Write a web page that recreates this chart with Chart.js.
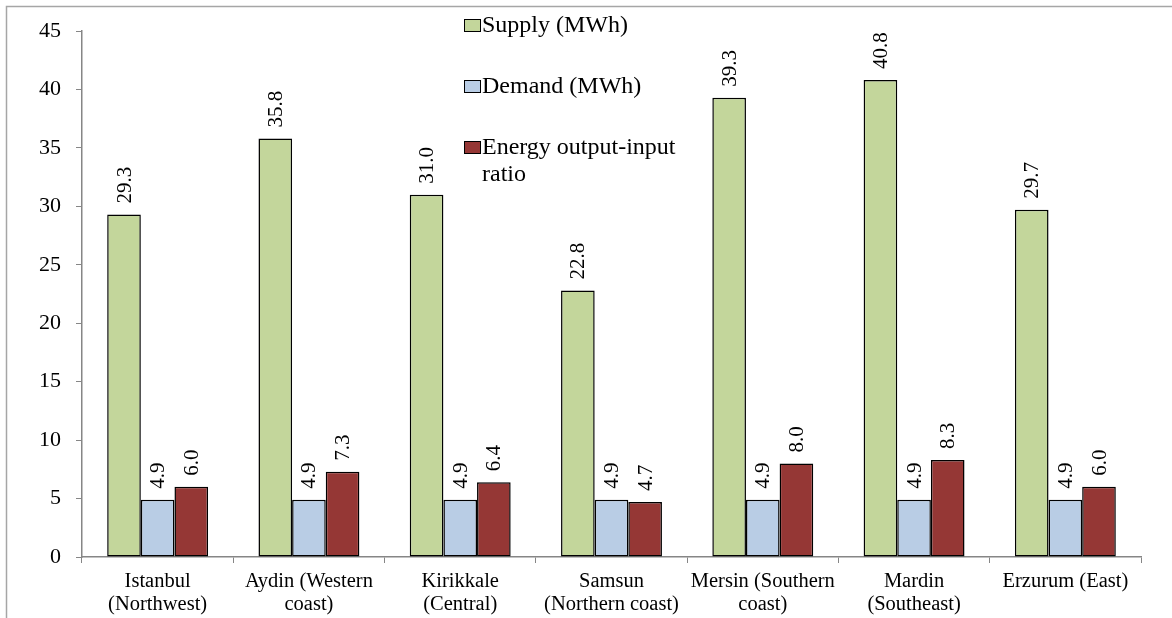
<!DOCTYPE html>
<html>
<head>
<meta charset="utf-8">
<script src="https://cdn.jsdelivr.net/npm/chart.js@4/dist/chart.umd.min.js"></script>
<style>
  html, body { margin: 0; padding: 0; background: #fff; }
  #wrap { width: 1172px; height: 618px; position: relative; }
</style>
</head>
<body>
<div id="wrap"><canvas id="c" width="1172" height="618"></canvas></div>
<script>
// Regions (category labels, multi-line where wrapped)
const regions = [
  ["Istanbul", "(Northwest)"],
  ["Aydin (Western", "coast)"],
  ["Kirikkale", "(Central)"],
  ["Samsun", "(Northern coast)"],
  ["Mersin (Southern", "coast)"],
  ["Mardin", "(Southeast)"],
  "Erzurum (East)"
];
// Series values
const supply = [29.3, 35.8, 31.0, 22.8, 39.3, 40.8, 29.7];
const demand = [4.9, 4.9, 4.9, 4.9, 4.9, 4.9, 4.9];
const ratio  = [6.0, 7.3, 6.4, 4.7, 8.0, 8.3, 6.0];
const seriesNames = ["Supply (MWh)", "Demand (MWh)", "Energy output-input ratio"];
// Value axis range
const yMin = 0, yMax = 45, yStep = 5;

const SERIF = '"Liberation Serif", "Times New Roman", serif';
const AXIS_GREY = '#868686';

// Outer frame of the chart object
const framePlugin = {
  id: 'frame',
  beforeDraw(chart) {
    const ctx = chart.ctx;
    ctx.save();
    ctx.strokeStyle = '#a6a6a6';
    ctx.lineWidth = 1.5;
    ctx.beginPath();
    ctx.moveTo(6.5, chart.height);
    ctx.lineTo(6.5, 6.5);
    ctx.lineTo(chart.width, 6.5);
    ctx.stroke();
    ctx.restore();
  }
};

// Vertical value labels above each bar
const valueLabelPlugin = {
  id: 'valueLabels',
  afterDatasetsDraw(chart) {
    const ctx = chart.ctx;
    ctx.save();
    ctx.font = '21px ' + SERIF;
    ctx.fillStyle = '#000';
    ctx.textAlign = 'left';
    ctx.textBaseline = 'middle';
    chart.data.datasets.forEach((ds, di) => {
      const meta = chart.getDatasetMeta(di);
      meta.data.forEach((bar, i) => {
        const txt = ds.data[i].toFixed(1);
        ctx.save();
        ctx.translate(bar.x + 1, bar.y - 11);
        ctx.rotate(-Math.PI / 2);
        ctx.fillText(txt, 0, 0);
        ctx.restore();
      });
    });
    ctx.restore();
  }
};

// Vertical legend placed inside the plot area
const legendPlugin = {
  id: 'sideLegend',
  afterDraw(chart) {
    const ctx = chart.ctx;
    const x0 = 464, y0 = 25, gap = 61, box = 16, maxW = 215, lh = 27;
    ctx.save();
    ctx.font = '24px ' + SERIF;
    ctx.textBaseline = 'middle';
    ctx.textAlign = 'left';
    chart.data.datasets.forEach((ds, i) => {
      const cy = y0 + i * gap;
      ctx.fillStyle = ds.backgroundColor;
      ctx.fillRect(x0, cy - 6, box, 12);
      ctx.strokeStyle = '#000';
      ctx.lineWidth = 1;
      ctx.strokeRect(x0 + 0.5, cy - 5.5, box, 12);
      // word wrap
      const words = ds.label.split(' ');
      const lines = [];
      let cur = '';
      words.forEach(w => {
        const t = cur ? cur + ' ' + w : w;
        if (ctx.measureText(t).width > maxW && cur) { lines.push(cur); cur = w; }
        else cur = t;
      });
      lines.push(cur);
      ctx.fillStyle = '#000';
      lines.forEach((ln, k) => ctx.fillText(ln, x0 + box + 2, cy + 1 + k * lh));
    });
    ctx.restore();
  }
};

new Chart(document.getElementById('c'), {
  type: 'bar',
  data: {
    labels: regions,
    datasets: [
      { label: seriesNames[0], data: supply, backgroundColor: '#c3d69b' },
      { label: seriesNames[1], data: demand, backgroundColor: '#b9cde5' },
      { label: seriesNames[2], data: ratio,  backgroundColor: '#953735' }
    ].map(d => Object.assign(d, {
      borderColor: '#000', borderWidth: 1.5, borderSkipped: false,
      categoryPercentage: 0.667, barPercentage: 1.0
    }))
  },
  options: {
    responsive: false,
    animation: false,
    devicePixelRatio: 1,
    layout: { padding: { left: 0, top: 31, right: 31, bottom: 0 } },
    plugins: {
      legend: { display: false },
      tooltip: { enabled: false }
    },
    scales: {
      x: {
        grid: { display: true, drawOnChartArea: false, drawTicks: true, tickLength: 6, color: AXIS_GREY, lineWidth: 1, offset: true },
        border: { display: true, color: AXIS_GREY, width: 1.5 },
        ticks: { color: '#000', font: { family: SERIF, size: 20.5, lineHeight: 1.13 }, padding: 7, maxRotation: 0, autoSkip: false },
        afterFit(scale) { scale.height = 61; }
      },
      y: {
        min: yMin, max: yMax,
        grid: { display: true, drawOnChartArea: false, drawTicks: true, tickLength: 6, color: AXIS_GREY, lineWidth: 1 },
        border: { display: true, color: AXIS_GREY, width: 1.5 },
        ticks: { stepSize: yStep, color: '#000', font: { family: SERIF, size: 22 }, padding: 15 },
        afterFit(scale) { scale.width = 82; }
      }
    }
  },
  plugins: [framePlugin, valueLabelPlugin, legendPlugin]
});
</script>
</body>
</html>
